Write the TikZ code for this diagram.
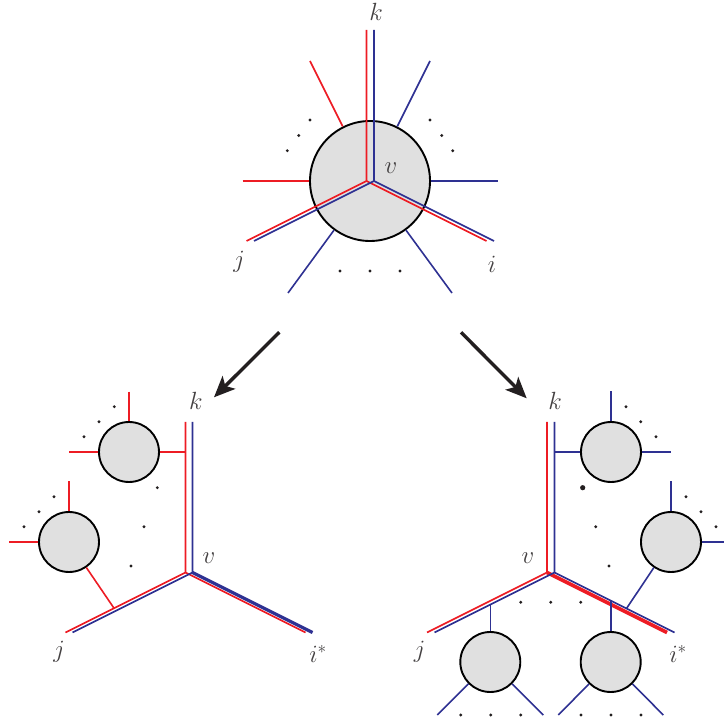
\documentclass[tikz,border=0pt]{standalone}
\usetikzlibrary{arrows.meta}
\definecolor{myred}{RGB}{237,28,36}
\definecolor{myblue}{RGB}{46,49,146}
\definecolor{mygray}{RGB}{224,224,224}
\definecolor{myblack}{RGB}{35,31,32}
\begin{document}
\begin{tikzpicture}[x=1pt,y=-1pt,
  rl/.style={draw=myred,line width=1.6pt},
  bl/.style={draw=myblue,line width=1.6pt},
  bub/.style={circle,draw=black,fill=mygray,line width=1.9pt,inner sep=0pt,minimum size=60pt},
  bigbub/.style={bub,minimum size=120pt},
  arr/.style={draw=myblack,line width=3.4pt,-{Stealth[length=21pt,width=18pt,inset=5pt]}},
  lab/.style={font=\fontsize{24}{28}\selectfont,text=myblack!85,inner sep=0pt},
  dotc/.style={fill=myblack}]
\useasboundingbox (0,0) rectangle (724,722);
% ---------------- top diagram ----------------
\node[bigbub] (V) at (370,181) {};
\coordinate (tB) at (374,181);
\coordinate (tR) at (366.5,181);
\draw[rl] (366.5,30) -- (tR) -- (246.5,241);
\draw[rl] (tR) -- (486.5,241);
\draw[bl] (374,30) -- (tB) -- (494,241);
\draw[bl] (tB) -- (254,241);
\draw[rl] (310,61) -- (V);
\draw[rl] (242.5,181) -- (V);
\draw[bl] (430,61) -- (V);
\draw[bl] (497.5,181) -- (V);
\draw[bl] (288,293) -- (V);
\draw[bl] (452,293) -- (V);
\foreach \p in {(310,120),(298.7,135.5),(287.3,150.7),(430,120),(441.7,135.5),(452.7,150.7),(340,271),(370,271),(400,271)}
  \fill[dotc] \p circle (1.6);
\node[lab] (tk) at (376,12) {$k$};
\node[lab] (tv) at (391,168) {$v$};
\node[lab] (tj) at (239,262) {$j$};
\node[lab] (ti) at (492,264) {$i$};
% ---------------- arrows ----------------
\coordinate (a1s) at (279.3,332.3);
\coordinate (a1e) at (214,397.3);
\coordinate (a2s) at (461,332.3);
\coordinate (a2e) at (526.7,398.3);
\draw[arr] (a1s) -- (a1e);
\draw[arr] (a2s) -- (a2e);
% ---------------- bottom left ----------------
\node[bub] (A) at (129,452) {};
\node[bub] (B) at (69,542) {};
\coordinate (lB) at (192.5,572.5);
\coordinate (lR) at (185.5,572.5);
\draw[rl] (185.5,422) -- (lR) -- (65.5,632.5);
\draw[rl] (lR) -- (305.5,632.5);
\draw[bl] (192.5,422) -- (lB) -- (72.5,632.5);
\draw[bl,line width=3.2pt] (lB) -- (312.5,632.5);
\draw[rl] (A) -- (185.5,452);
\draw[rl] (129,391.7) -- (A);
\draw[rl] (69,452) -- (A);
\draw[rl] (69,481.5) -- (B);
\draw[rl] (9,542) -- (B);
\draw[rl] (B) -- (114,608.2);
\foreach \p in {(114.3,406.7),(99,421.7),(84,436.7),(54,496.7),(39,511.7),(24,526.7),(157.3,487.7),(144,526.7),(131,566)}
  \fill[dotc] \p circle (1.6);
\node[lab] (lk) at (196,401) {$k$};
\node[lab] (lv) at (209,558) {$v$};
\node[lab] (lj) at (59,652) {$j$};
\node[lab] (li) at (318,654) {$i^*$};
% ---------------- bottom right ----------------
\node[bub] (C) at (611,452) {};
\node[bub] (D) at (671,542) {};
\node[bub] (E) at (490.3,662) {};
\node[bub] (F) at (610.7,662) {};
\coordinate (rB) at (554.5,572.5);
\coordinate (rR) at (547,572.5);
\draw[rl] (547,422) -- (rR) -- (427,632.5);
\draw[rl,line width=3.6pt] (rR) -- (667,632.5);
\draw[bl] (554.5,422) -- (rB) -- (674.5,632.5);
\draw[bl] (rB) -- (434.5,632.5);
\draw[bl] (554.5,452) -- (C);
\draw[bl] (611,391.5) -- (C);
\draw[bl] (670.7,452) -- (C);
\draw[bl] (671,481.5) -- (D);
\draw[bl] (724,542) -- (D);
\draw[bl] (D) -- (626.5,608.5);
\draw[bl] (490.3,604.4) -- (E);
\draw[bl] (610.7,600.6) -- (F);
\draw[bl] (437.3,715) -- (E);
\draw[bl] (543.3,715) -- (E);
\draw[bl] (558.3,715) -- (F);
\draw[bl] (663.3,715) -- (F);
\foreach \p in {(626,406.7),(640.7,421.7),(656,436.7),(686,496.7),(701,511.7),(716,526.7),(595.7,526.7),(609,566),(520.7,602.3),(550.7,602.3),(580.7,602.3),(460.7,715),(490.7,715),(520.7,715),(581,715),(611,715),(641,715)}
  \fill[dotc] \p circle (1.6);
\fill[dotc] (582.7,487.7) circle (2.6);
\node[lab] (rk) at (555,401) {$k$};
\node[lab] (rv) at (528,558) {$v$};
\node[lab] (rj) at (419.5,652) {$j$};
\node[lab] (ri) at (678,654) {$i^*$};
\end{tikzpicture}
\end{document}
